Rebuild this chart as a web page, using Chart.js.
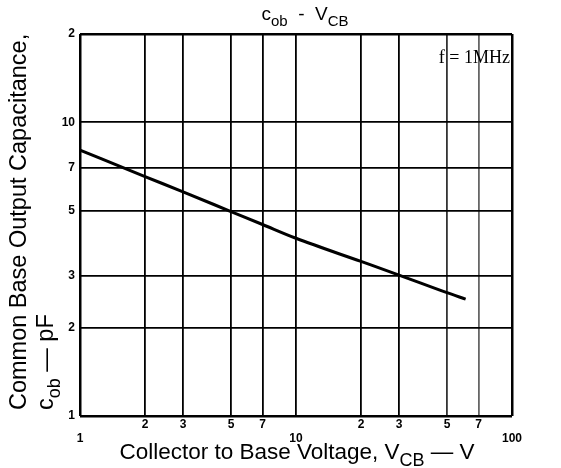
<!DOCTYPE html>
<html>
<head>
<meta charset="utf-8">
<script src="https://cdn.jsdelivr.net/npm/chart.js@4.4.1/dist/chart.umd.min.js"></script>
<style>
  html, body { margin: 0; padding: 0; background: #fff; }
</style>
</head>
<body>
<canvas id="chart" width="561" height="468"></canvas>
<script>
// (log-log)
const voltage = [1, 2, 3, 5, 7, 10, 20, 30, 50, 61];
const capacitance = [8.05, 6.54, 5.8, 4.97, 4.49, 4.03, 3.36, 3.02, 2.63, 2.5];

const xTicks = [1, 2, 3, 5, 7, 10, 20, 30, 50, 70, 100];
const xTickLabels = ['1', '2', '3', '5', '7', '10', '2', '3', '5', '7', '100'];
const yTicks = [1, 2, 3, 5, 7, 10, 20];
const yTickLabels = ['1', '2', '3', '5', '7', '10', '2'];
const decades = [1, 10, 100];

const sansFont = '"Liberation Sans", Arial, sans-serif';

// draw text made of normal + subscript pieces
const drawParts = (ctx, parts, x, y, size, align) => {
    const subSize = Math.round(size * 0.78);
    let total = 0;
    parts.forEach(p => {
        ctx.font = (p[1] ? subSize : size) + 'px ' + sansFont;
        total += ctx.measureText(p[0]).width;
    });
    let cx = align === 'center' ? x - total / 2 : x;
    parts.forEach(p => {
        ctx.font = (p[1] ? subSize : size) + 'px ' + sansFont;
        ctx.fillText(p[0], cx, p[1] ? y + size * 0.3 : y);
        cx += ctx.measureText(p[0]).width;
    });
};

const labelsPlugin = {
    id: 'labelsPlugin',
    afterDraw: (chart) => {
        const { ctx } = chart;
        ctx.save();
        ctx.fillStyle = '#000';
        ctx.textBaseline = 'alphabetic';
        ctx.textAlign = 'left';

        // top title
        drawParts(ctx, [['c', false], ['ob', true], ['  -  V', false], ['CB', true]], 305, 20, 19, 'center');

        // x axis title
        drawParts(ctx, [['Collector to Base Voltage, V', false], ['CB', true], [' \u2014 V', false]], 297, 459, 22.5, 'center');

        // y axis title, rotated
        ctx.rotate(-Math.PI / 2);
        drawParts(ctx, [['Common Base Output Capacitance,', false]], -410, 26, 23.5, 'left');
        drawParts(ctx, [['c', false], ['ob', true], [' \u2014 pF', false]], -410, 53, 23.5, 'left');
        ctx.restore();

        // frequency note
        ctx.save();
        ctx.fillStyle = '#000';
        ctx.font = '18px "Liberation Serif", serif';
        ctx.textAlign = 'right';
        ctx.fillText('f = 1MHz', 510, 63);
        ctx.restore();
    }
};

const gridColor = (v) => (v === 70 ? '#666' : (v === 50 ? '#333' : '#000'));

new Chart(document.getElementById('chart'), {
    type: 'line',
    data: {
        datasets: [{
            data: voltage.map((v, i) => ({ x: v, y: capacitance[i] })),
            borderColor: '#000',
            borderWidth: 3,
            pointRadius: 0,
            cubicInterpolationMode: 'monotone',
            fill: false
        }]
    },
    options: {
        responsive: false,
        animation: false,
        layout: { padding: { top: 34, right: 49, left: 0, bottom: 0 } },
        plugins: { legend: { display: false }, tooltip: { enabled: false } },
        scales: {
            x: {
                type: 'logarithmic',
                min: 1,
                max: 100,
                afterBuildTicks: (axis) => { axis.ticks = xTicks.map(v => ({ value: v })); },
                afterFit: (axis) => { axis.height = 52; },
                grid: {
                    color: (c) => gridColor(c.tick && c.tick.value),
                    lineWidth: (c) => (c.tick && (c.tick.value === 1 || c.tick.value === 100) ? 2.5 : 1.8),
                    drawTicks: false
                },
                border: { display: false },
                ticks: {
                    autoSkip: false,
                    maxRotation: 0,
                    padding: 1,
                    color: '#000',
                    font: { family: sansFont, size: 12, weight: 'bold' },
                    callback: (value) => {
                        const i = xTicks.indexOf(value);
                        if (i < 0) return '';
                        return decades.includes(value) ? ['', xTickLabels[i]] : xTickLabels[i];
                    }
                }
            },
            y: {
                type: 'logarithmic',
                min: 1,
                max: 20,
                afterBuildTicks: (axis) => { axis.ticks = yTicks.map(v => ({ value: v })); },
                afterFit: (axis) => { axis.width = 80; },
                grid: {
                    color: '#000',
                    lineWidth: (c) => (c.tick && (c.tick.value === 1 || c.tick.value === 20) ? 2.5 : 1.8),
                    drawTicks: false
                },
                border: { display: false },
                ticks: {
                    autoSkip: false,
                    padding: 5,
                    color: '#000',
                    font: { family: sansFont, size: 12, weight: 'bold' },
                    callback: (value) => {
                        const i = yTicks.indexOf(value);
                        return i < 0 ? '' : yTickLabels[i];
                    }
                }
            }
        }
    },
    plugins: [labelsPlugin]
});
</script>
</body>
</html>
